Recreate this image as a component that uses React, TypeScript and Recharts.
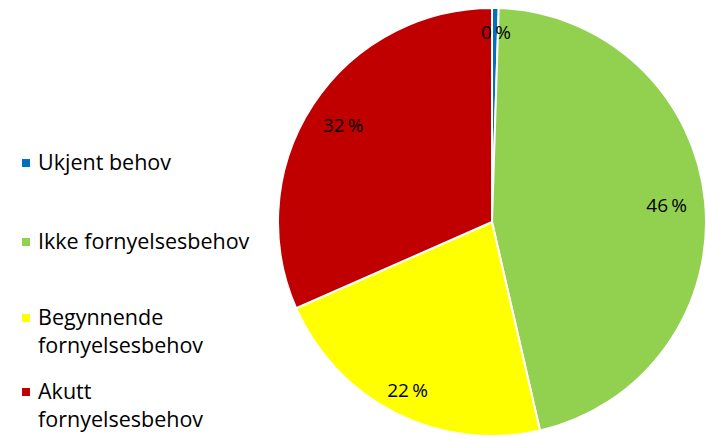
import { PieChart, Pie, Cell, Legend } from 'recharts'

const categories = ['Ukjent behov', 'Ikke fornyelsesbehov', 'Begynnende fornyelsesbehov', 'Akutt fornyelsesbehov']
const shares = [0.5, 45.9, 22.0, 31.6]
const shareLabels = ['0 %', '46 %', '22 %', '32 %']
const colors = ['#0070C0', '#92D050', '#FFFF00', '#C00000']

// legend lines (wrapped like the original)
const legendLines = [['Ukjent behov'], ['Ikke fornyelsesbehov'], ['Begynnende', 'fornyelsesbehov'], ['Akutt', 'fornyelsesbehov']]
const legendTops = [148, 227, 303, 377]

const data = categories.map((name, i) => ({ name, value: shares[i], label: shareLabels[i] }))

const RAD = Math.PI / 180
const labelRadius = [0.89, 0.82, 0.88, 0.83]

function renderLabel(props: any) {
  const { cx, cy, midAngle, outerRadius, index } = props
  const r = outerRadius * labelRadius[index]
  const x = cx + r * Math.cos(-midAngle * RAD) + (index === 0 ? 1 : 0)
  const y = cy + r * Math.sin(-midAngle * RAD)
  return (
    <text x={x} y={y} fill="#000" fontSize={19} textAnchor="middle" dominantBaseline="central"
      fontFamily="'Open Sans', sans-serif">
      {data[index].label.replace(' ', '\u2009')}
    </text>
  )
}

function LegendBox() {
  return (
    <div style={{ position: 'relative', width: 270, height: 438 }}>
      {legendLines.map((lines, i) => (
        <div key={i} style={{ position: 'absolute', left: 22, top: legendTops[i], display: 'flex' }}>
          <div style={{ width: 8, height: 8, background: colors[i], marginTop: 11, marginRight: 8 }} />
          <div style={{ fontFamily: "'Open Sans', sans-serif", fontSize: 21.5, lineHeight: '28px', color: '#000' }}>
            {lines.map((l, j) => <div key={j}>{l}</div>)}
          </div>
        </div>
      ))}
    </div>
  )
}

export default function App() {
  return (
    <div style={{ position: 'absolute', left: 0, top: 0, width: 706, height: 438, background: '#fff' }}>
      <PieChart width={706} height={438} margin={{ top: 0, right: 0, bottom: 0, left: 0 }}>
        <Pie
          data={data}
          dataKey="value"
          nameKey="name"
          cx={492}
          cy={222}
          outerRadius={214}
          startAngle={90}
          endAngle={-270}
          stroke="#fff"
          strokeWidth={2}
          label={renderLabel}
          labelLine={false}
          isAnimationActive={false}
        >
          {data.map((d, i) => <Cell key={d.name} fill={colors[i]} />)}
        </Pie>
        <Legend
          content={() => <LegendBox />}
          wrapperStyle={{ left: 0, top: 0, width: 270, height: 438 }}
        />
      </PieChart>
    </div>
  )
}
